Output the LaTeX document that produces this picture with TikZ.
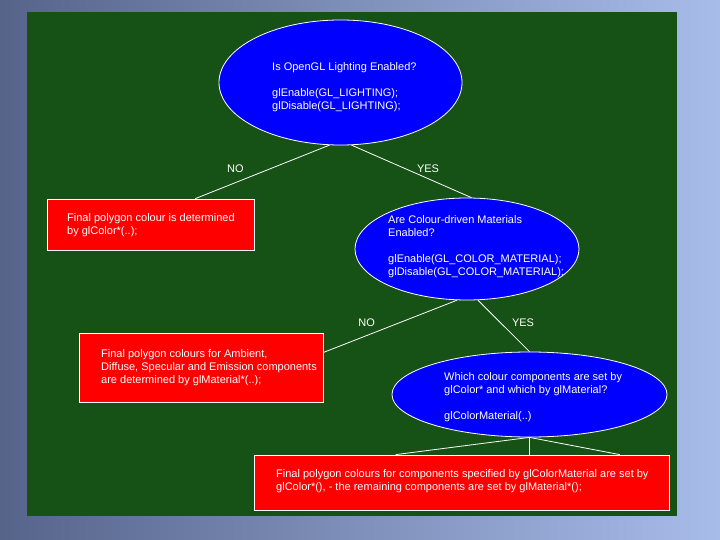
\documentclass[tikz,border=0pt]{standalone}
\usepackage{fontspec}
\setmainfont{Liberation Sans}
\usepackage{tikz}
\usetikzlibrary{shapes.geometric}
\definecolor{panel}{RGB}{22,82,22}
\definecolor{bgdark}{RGB}{86,100,138}
\definecolor{bglight}{RGB}{168,188,234}
\definecolor{question}{RGB}{0,0,255}
\definecolor{answer}{RGB}{255,0,0}

\begin{document}
\begin{tikzpicture}[x=1pt,y=-1pt,
  qshape/.style={ellipse,draw=white,line width=0.8pt,fill=question,inner sep=0pt},
  ashape/.style={rectangle,draw=white,line width=0.8pt,fill=answer,inner sep=0pt},
  btext/.style={font=\fontsize{11}{13}\selectfont,text=white,align=left,inner sep=0pt,anchor=west},
  link/.style={draw=white,line width=0.8pt},
  lbl/.style={font=\fontsize{11}{13}\selectfont,text=white,inner sep=0pt}]
  % Background and panel
  \shade[left color=bgdark,right color=bglight] (0,0) rectangle (720,540);
  \fill[panel] (27,12) rectangle (677,516);

  % Lighting question
  \node[qshape,minimum width=243pt,minimum height=125pt] (e1) at (340.5,82.5) {};
  \node[btext] (t1) at (272,87) {Is OpenGL Lighting Enabled?\\[13pt]
    glEnable(GL\_LIGHTING);\\
    glDisable(GL\_LIGHTING);};

  % No lighting
  \node[ashape,minimum width=207pt,minimum height=51pt] (b1) at (150.5,224.5) {};
  \node[btext] (u1) at (67,225.5) {Final polygon colour is determined\\
    by glColor*(..);};

  % Colour material question
  \node[qshape,minimum width=224pt,minimum height=102pt] (e2) at (467,249) {};
  \node[btext] (t2) at (388,246.5) {Are Colour-driven Materials\\
    Enabled?\\[13pt]
    glEnable(GL\_COLOR\_MATERIAL);\\
    glDisable(GL\_COLOR\_MATERIAL);};

  % No colour material
  \node[ashape,minimum width=244pt,minimum height=69pt] (b2) at (201,367.5) {};
  \node[btext] (u2) at (101,367.5) {Final polygon colours for Ambient,\\
    Diffuse, Specular and Emission components\\
    are determined by glMaterial*(..);};

  % Which components
  \node[qshape,minimum width=275pt,minimum height=85pt] (e3) at (529.5,394.5) {};
  \node[btext] (t3) at (444,397) {Which colour components are set by\\
    glColor* and which by glMaterial?\\[13pt]
    glColorMaterial(..)};

  % Mixed result
  \node[ashape,minimum width=415pt,minimum height=55pt] (b3) at (461.5,482.5) {};
  \node[btext] (u3) at (276,481.5) {Final polygon colours for components specified by glColorMaterial are set by\\
    glColor*(), - the remaining components are set by glMaterial*();};

  % Connectors
  \draw[link] (e1.260) -- (b1.30) node[lbl,pos=0.44,xshift=-35pt] (no1) {NO};
  \draw[link] (e1.280) -- (e2.85) node[lbl,pos=0.45,xshift=22.5pt] (yes1) {YES};
  \draw[link] (e2.259) -- (b2.7) node[lbl,pos=0.43,xshift=-33pt] (no2) {NO};
  \draw[link] (e2.282) -- (e3.north) node[lbl,pos=0.43,xshift=23pt] (yes2) {YES};
  \draw[link] (e3.south) -- (b3.157.5);
  \draw[link] (e3.south) -- (e3.south |- b3.north);
  \draw[link] (e3.south) -- (b3.10.2);
\end{tikzpicture}
\end{document}
